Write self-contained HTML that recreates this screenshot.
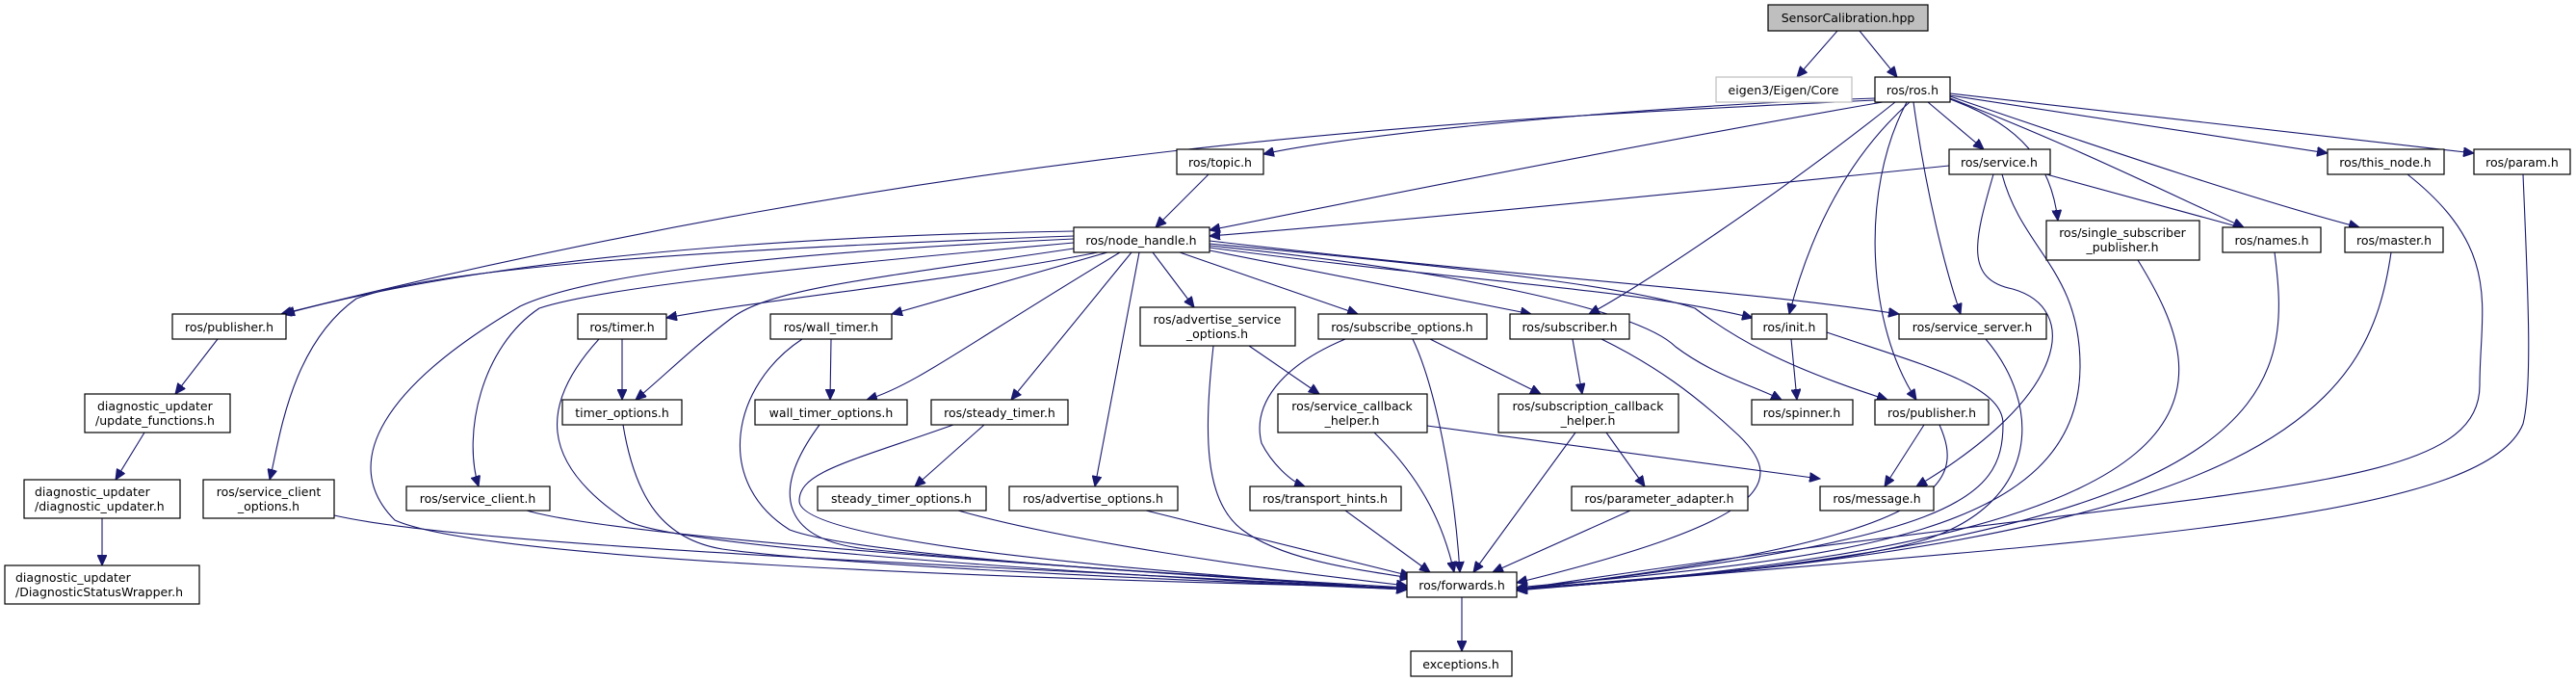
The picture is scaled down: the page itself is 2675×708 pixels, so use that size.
<!DOCTYPE html>
<html><head><meta charset="utf-8"><style>
html,body{margin:0;padding:0;background:#fff;}
svg{display:block;}
text{font-family:"DejaVu Sans","Liberation Sans",sans-serif;font-size:12.5px;fill:#000;}
.n{fill:#fff;stroke:#000;stroke-width:1.2;}
.e{fill:none;stroke:#191970;stroke-width:1.1;marker-end:url(#a);}
</style></head><body>
<svg width="2675" height="708" viewBox="0 0 2675 708" xmlns="http://www.w3.org/2000/svg">
<defs><marker id="a" markerUnits="userSpaceOnUse" markerWidth="12" markerHeight="10" refX="11" refY="5" orient="auto"><path d="M0,0 L11,5 L0,10 z" fill="#191970" stroke="#191970"/></marker></defs>
<g>
<path class="e" d="M1908,32 L1866,80"/>
<path class="e" d="M1931,32 L1970,80"/>
<path class="e" d="M1947,104 C1500,125 1000,150 292,326"/>
<path class="e" d="M1947,102 C1700,110 1400,140 1312,160"/>
<path class="e" d="M1955,106 C1700,150 1400,210 1256,239"/>
<path class="e" d="M2024,172 C1800,195 1450,230 1256,245"/>
<path class="e" d="M1255,181 L1200,236"/>
<path class="e" d="M1968,106 C1850,200 1700,300 1650,326"/>
<path class="e" d="M1983,106 C1900,180 1870,280 1858,326"/>
<path class="e" d="M1980,106 C1930,200 1940,340 1990,415"/>
<path class="e" d="M1987,106 C2000,200 2020,280 2036,326"/>
<path class="e" d="M2002,106 L2060,155"/>
<path class="e" d="M2025,103 C2100,130 2130,170 2137,229"/>
<path class="e" d="M2025,102 C2150,150 2250,200 2330,236"/>
<path class="e" d="M2025,100 C2200,160 2350,210 2450,236"/>
<path class="e" d="M2025,99 L2417,159"/>
<path class="e" d="M2025,97 L2569,159"/>
<path class="e" d="M2125,181 L2330,237"/>
<path class="e" d="M2070,181 C2050,250 2040,290 2090,300 C2160,320 2150,410 1990,505"/>
<path class="e" d="M2079,181 C2100,260 2160,280 2160,380 C2160,560 1900,580 1575,610"/>
<path class="e" d="M2220,270 C2300,400 2350,560 1575,612"/>
<path class="e" d="M2362,262 C2380,400 2380,560 1575,612"/>
<path class="e" d="M2483,262 C2460,420 2370,560 1575,612"/>
<path class="e" d="M2500,181 C2600,260 2575,320 2575,400 C2575,520 2300,500 1575,612"/>
<path class="e" d="M2620,181 C2625,300 2630,400 2620,440 C2580,540 2200,560 1575,613"/>
<path class="e" d="M1860,352 L1866,415"/>
<path class="e" d="M1897,345 C2000,380 2080,400 2080,440 C2080,520 2030,560 1575,612"/>
<path class="e" d="M2062,352 C2120,420 2120,520 2000,560 C1900,590 1700,600 1575,612"/>
<path class="e" d="M1998,441 L1957,505"/>
<path class="e" d="M2014,441 C2040,500 2030,560 1575,612"/>
<path class="e" d="M1115,240 C800,245 500,270 295,326"/>
<path class="e" d="M1115,245 C700,260 450,280 370,310 C300,360 290,460 280,498"/>
<path class="e" d="M1115,248 C750,265 600,290 540,318 C400,400 350,480 410,540 C500,580 1000,600 1461,610"/>
<path class="e" d="M1115,252 C800,280 620,300 560,320 C500,360 480,450 497,505"/>
<path class="e" d="M1140,262 C1000,290 800,310 692,330"/>
<path class="e" d="M1115,258 C900,290 800,300 760,330 C720,360 690,390 660,415"/>
<path class="e" d="M1150,262 L926,326"/>
<path class="e" d="M1163,262 C1000,360 950,400 900,415"/>
<path class="e" d="M1175,262 L1050,415"/>
<path class="e" d="M1183,262 L1137,505"/>
<path class="e" d="M1197,262 L1240,319"/>
<path class="e" d="M1225,262 L1410,326"/>
<path class="e" d="M1256,260 L1590,326"/>
<path class="e" d="M1256,257 C1500,290 1700,300 1820,330"/>
<path class="e" d="M1256,255 C1500,280 1700,320 1740,360 C1780,390 1820,400 1850,415"/>
<path class="e" d="M1256,253 C1550,280 1700,300 1760,320 C1800,350 1850,380 1960,415"/>
<path class="e" d="M1256,250 C1600,290 1800,300 1972,326"/>
<path class="e" d="M646,352 L646,415"/>
<path class="e" d="M622,352 C560,420 560,480 650,540 C700,570 1200,600 1461,612"/>
<path class="e" d="M647,441 C660,520 690,560 750,570 C900,590 1300,605 1461,612"/>
<path class="e" d="M863,352 L862,415"/>
<path class="e" d="M833,352 C760,400 740,500 820,550 C900,580 1300,600 1461,612"/>
<path class="e" d="M851,441 C800,510 810,560 900,570 C1100,590 1300,600 1461,612"/>
<path class="e" d="M1022,441 L950,505"/>
<path class="e" d="M990,441 C880,480 830,490 830,520 C830,570 1300,600 1461,612"/>
<path class="e" d="M995,530 C1100,560 1300,590 1461,608"/>
<path class="e" d="M547,530 C650,560 1200,595 1461,610"/>
<path class="e" d="M347,535 C500,570 1100,590 1461,612"/>
<path class="e" d="M1190,530 L1465,598"/>
<path class="e" d="M1260,359 C1250,450 1250,520 1290,550 C1330,580 1400,590 1465,600"/>
<path class="e" d="M1297,359 L1370,409"/>
<path class="e" d="M1397,352 C1330,380 1300,420 1310,460 C1320,480 1340,500 1355,505"/>
<path class="e" d="M1467,352 C1490,400 1510,500 1516,594"/>
<path class="e" d="M1485,352 L1600,409"/>
<path class="e" d="M1663,352 C1720,380 1760,410 1800,447 C1860,500 1840,540 1575,605"/>
<path class="e" d="M1633,352 L1643,409"/>
<path class="e" d="M1482,442 L1890,497"/>
<path class="e" d="M1427,449 C1480,500 1500,550 1510,594"/>
<path class="e" d="M1636,449 L1530,594"/>
<path class="e" d="M1668,449 L1708,505"/>
<path class="e" d="M1397,530 L1485,594"/>
<path class="e" d="M1693,530 L1550,594"/>
<path class="e" d="M1518,620 L1518,676"/>
<path class="e" d="M226,352 L182,409"/>
<path class="e" d="M150,449 L120,498"/>
<path class="e" d="M106,538 L106,587"/>
</g>
<g>
<rect x="1836" y="5" width="166" height="27" fill="#bfbfbf" stroke="#000" stroke-width="1.2"/><text x="1919" y="23" text-anchor="middle">SensorCalibration.hpp</text>
<rect x="1782" y="80" width="141" height="26" fill="#fff" stroke="#bfbfbf" stroke-width="1.2"/><text x="1852" y="98" text-anchor="middle">eigen3/Eigen/Core</text>
<rect class="n" x="1947" y="80" width="78" height="26"/><text x="1986" y="98" text-anchor="middle">ros/ros.h</text>
<rect class="n" x="1222" y="155" width="90" height="26"/><text x="1267" y="173" text-anchor="middle">ros/topic.h</text>
<rect class="n" x="2024" y="155" width="105" height="26"/><text x="2076" y="173" text-anchor="middle">ros/service.h</text>
<rect class="n" x="2417" y="155" width="121" height="26"/><text x="2477" y="173" text-anchor="middle">ros/this_node.h</text>
<rect class="n" x="2569" y="155" width="100" height="26"/><text x="2619" y="173" text-anchor="middle">ros/param.h</text>
<rect class="n" x="1115" y="236" width="141" height="26"/><text x="1185" y="254" text-anchor="middle">ros/node_handle.h</text>
<rect class="n" x="2125" y="229" width="159" height="41"/><text x="2204" y="246" text-anchor="middle">ros/single_subscriber</text><text x="2204" y="261" text-anchor="middle">_publisher.h</text>
<rect class="n" x="2308" y="236" width="102" height="26"/><text x="2359" y="254" text-anchor="middle">ros/names.h</text>
<rect class="n" x="2435" y="236" width="102" height="26"/><text x="2486" y="254" text-anchor="middle">ros/master.h</text>
<rect class="n" x="179" y="326" width="118" height="26"/><text x="238" y="344" text-anchor="middle">ros/publisher.h</text>
<rect class="n" x="600" y="326" width="92" height="26"/><text x="646" y="344" text-anchor="middle">ros/timer.h</text>
<rect class="n" x="800" y="326" width="126" height="26"/><text x="863" y="344" text-anchor="middle">ros/wall_timer.h</text>
<rect class="n" x="1184" y="319" width="161" height="40"/><text x="1264" y="336" text-anchor="middle">ros/advertise_service</text><text x="1264" y="351" text-anchor="middle">_options.h</text>
<rect class="n" x="1369" y="326" width="175" height="26"/><text x="1456" y="344" text-anchor="middle">ros/subscribe_options.h</text>
<rect class="n" x="1568" y="326" width="124" height="26"/><text x="1630" y="344" text-anchor="middle">ros/subscriber.h</text>
<rect class="n" x="1819" y="326" width="78" height="26"/><text x="1858" y="344" text-anchor="middle">ros/init.h</text>
<rect class="n" x="1972" y="326" width="153" height="26"/><text x="2048" y="344" text-anchor="middle">ros/service_server.h</text>
<rect class="n" x="88" y="409" width="151" height="40"/><text x="101" y="426">diagnostic_updater</text><text x="99" y="441">/update_functions.h</text>
<rect class="n" x="584" y="415" width="124" height="26"/><text x="646" y="433" text-anchor="middle">timer_options.h</text>
<rect class="n" x="784" y="415" width="158" height="26"/><text x="863" y="433" text-anchor="middle">wall_timer_options.h</text>
<rect class="n" x="967" y="415" width="142" height="26"/><text x="1038" y="433" text-anchor="middle">ros/steady_timer.h</text>
<rect class="n" x="1327" y="409" width="155" height="40"/><text x="1404" y="426" text-anchor="middle">ros/service_callback</text><text x="1404" y="441" text-anchor="middle">_helper.h</text>
<rect class="n" x="1556" y="409" width="187" height="40"/><text x="1649" y="426" text-anchor="middle">ros/subscription_callback</text><text x="1649" y="441" text-anchor="middle">_helper.h</text>
<rect class="n" x="1819" y="415" width="105" height="26"/><text x="1871" y="433" text-anchor="middle">ros/spinner.h</text>
<rect class="n" x="1947" y="415" width="118" height="26"/><text x="2006" y="433" text-anchor="middle">ros/publisher.h</text>
<rect class="n" x="25" y="498" width="162" height="40"/><text x="36" y="515">diagnostic_updater</text><text x="36" y="530">/diagnostic_updater.h</text>
<rect class="n" x="211" y="498" width="136" height="40"/><text x="279" y="515" text-anchor="middle">ros/service_client</text><text x="279" y="530" text-anchor="middle">_options.h</text>
<rect class="n" x="422" y="505" width="149" height="25"/><text x="496" y="522" text-anchor="middle">ros/service_client.h</text>
<rect class="n" x="849" y="505" width="175" height="25"/><text x="936" y="522" text-anchor="middle">steady_timer_options.h</text>
<rect class="n" x="1048" y="505" width="175" height="25"/><text x="1135" y="522" text-anchor="middle">ros/advertise_options.h</text>
<rect class="n" x="1298" y="505" width="157" height="25"/><text x="1376" y="522" text-anchor="middle">ros/transport_hints.h</text>
<rect class="n" x="1632" y="505" width="183" height="25"/><text x="1723" y="522" text-anchor="middle">ros/parameter_adapter.h</text>
<rect class="n" x="1890" y="505" width="118" height="25"/><text x="1949" y="522" text-anchor="middle">ros/message.h</text>
<rect class="n" x="5" y="587" width="202" height="40"/><text x="16" y="604">diagnostic_updater</text><text x="16" y="619">/DiagnosticStatusWrapper.h</text>
<rect class="n" x="1461" y="594" width="114" height="26"/><text x="1518" y="612" text-anchor="middle">ros/forwards.h</text>
<rect class="n" x="1465" y="676" width="105" height="26"/><text x="1517" y="694" text-anchor="middle">exceptions.h</text>
</g>
</svg>
</body></html>
